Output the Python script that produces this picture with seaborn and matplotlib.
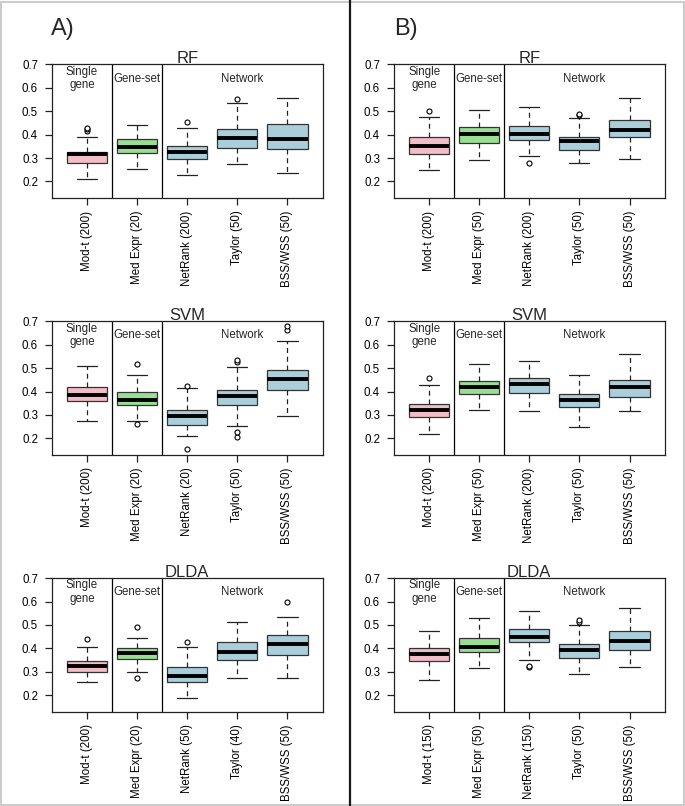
import pandas as pd
import matplotlib
matplotlib.use('Agg')
import matplotlib.pyplot as plt
import seaborn as sns
from matplotlib.lines import Line2D
from matplotlib.patches import Rectangle

# box stats per method: [lower whisker, q1, median, q3, upper whisker]
a_rf_labels = ['Mod-t (200)', 'Med Expr (20)', 'NetRank (200)', 'Taylor (50)', 'BSS/WSS (50)']
a_rf_stats = [[0.211, 0.279, 0.317, 0.324, 0.389],
              [0.254, 0.321, 0.347, 0.383, 0.443],
              [0.229, 0.296, 0.327, 0.351, 0.430],
              [0.273, 0.343, 0.387, 0.424, 0.534],
              [0.234, 0.337, 0.381, 0.447, 0.556]]
a_rf_out = [[0.415, 0.422, 0.430], [], [0.454], [0.554], []]

b_rf_labels = ['Mod-t (200)', 'Med Expr (50)', 'NetRank (200)', 'Taylor (50)', 'BSS/WSS (50)']
b_rf_stats = [[0.250, 0.319, 0.350, 0.389, 0.474],
              [0.293, 0.364, 0.404, 0.433, 0.506],
              [0.310, 0.377, 0.404, 0.439, 0.520],
              [0.280, 0.334, 0.371, 0.391, 0.471],
              [0.294, 0.389, 0.420, 0.461, 0.556]]
b_rf_out = [[0.500], [], [0.279], [0.483, 0.487], []]

a_svm_labels = ['Mod-t (200)', 'Med Expr (20)', 'NetRank (20)', 'Taylor (50)', 'BSS/WSS (50)']
a_svm_stats = [[0.274, 0.359, 0.384, 0.421, 0.510],
               [0.274, 0.344, 0.366, 0.399, 0.470],
               [0.210, 0.259, 0.297, 0.320, 0.414],
               [0.251, 0.341, 0.383, 0.407, 0.507],
               [0.296, 0.406, 0.453, 0.491, 0.617]]
a_svm_out = [[], [0.260, 0.517], [0.153, 0.426], [0.207, 0.227, 0.527, 0.536], [0.664, 0.681]]

b_svm_labels = ['Mod-t (200)', 'Med Expr (50)', 'NetRank (200)', 'Taylor (50)', 'BSS/WSS (50)']
b_svm_stats = [[0.220, 0.290, 0.323, 0.346, 0.430],
               [0.321, 0.390, 0.421, 0.444, 0.516],
               [0.319, 0.393, 0.433, 0.457, 0.529],
               [0.249, 0.333, 0.363, 0.389, 0.470],
               [0.317, 0.377, 0.421, 0.451, 0.559]]
b_svm_out = [[0.459], [], [], [], []]

a_dlda_labels = ['Mod-t (200)', 'Med Expr (20)', 'NetRank (50)', 'Taylor (40)', 'BSS/WSS (50)']
a_dlda_stats = [[0.254, 0.299, 0.323, 0.344, 0.404],
                [0.297, 0.356, 0.381, 0.400, 0.446],
                [0.189, 0.254, 0.280, 0.319, 0.407],
                [0.274, 0.351, 0.386, 0.429, 0.514],
                [0.274, 0.371, 0.417, 0.459, 0.534]]
a_dlda_out = [[0.440], [0.274, 0.490], [0.427], [], [0.599]]

b_dlda_labels = ['Mod-t (150)', 'Med Expr (50)', 'NetRank (150)', 'Taylor (50)', 'BSS/WSS (50)']
b_dlda_stats = [[0.263, 0.347, 0.374, 0.403, 0.474],
                [0.317, 0.384, 0.407, 0.444, 0.531],
                [0.350, 0.426, 0.447, 0.481, 0.559],
                [0.291, 0.360, 0.393, 0.417, 0.500],
                [0.320, 0.391, 0.433, 0.473, 0.571]]
b_dlda_out = [[], [], [0.319, 0.326], [0.514, 0.521], []]

box_colors = ['#F9B5C2', '#8FEA8A', '#A3D2E3', '#A3D2E3', '#A3D2E3']

sns.set_style('white')
plt.rcParams['font.family'] = ['Liberation Sans', 'DejaVu Sans']
plt.rcParams['axes.edgecolor'] = '#222222'
plt.rcParams['axes.linewidth'] = 0.9


def draw_panel(ax, title, labels, stats, outliers):
    rows = [(lab, v) for lab, s in zip(labels, stats) for v in s]
    df = pd.DataFrame(rows, columns=['method', 'value'])
    sns.boxplot(data=df, x='method', y='value', hue='method', order=labels,
                palette=dict(zip(labels, box_colors)), legend=False,
                width=0.8, whis=(0, 100), fliersize=0, ax=ax,
                linecolor='#333333', linewidth=0.9,
                medianprops=dict(color='black', linewidth=2.8),
                whiskerprops=dict(color='#222222', linestyle=(0, (4, 3))),
                capprops=dict(color='#222222'))
    out_rows = [(lab, v) for lab, o in zip(labels, outliers) for v in o]
    odf = pd.DataFrame(out_rows, columns=['method', 'value'])
    sns.stripplot(data=odf, x='method', y='value', order=labels, jitter=False,
                  color='white', edgecolor='black', linewidth=0.8, size=3.6,
                  ax=ax, zorder=5)
    ax.axvline(0.5, color='black', lw=0.9)
    ax.axvline(1.5, color='black', lw=0.9)
    ax.text(-0.1, 0.64, 'Single\ngene', ha='center', va='center', fontsize=8.3)
    ax.text(1.0, 0.64, 'Gene-set', ha='center', va='center', fontsize=8.3)
    ax.text(3.1, 0.64, 'Network', ha='center', va='center', fontsize=8.3)
    ax.set_xlim(-0.7, 4.7)
    ax.set_ylim(0.129, 0.701)
    ax.set_yticks([0.2, 0.3, 0.4, 0.5, 0.6, 0.7])
    ax.set_yticklabels(['0.2', '0.3', '0.4', '0.5', '0.6', '0.7'])
    ax.set_xticks(range(len(labels)))
    ax.set_xticklabels(labels, rotation=90)
    ax.tick_params(axis='both', direction='out', length=5, width=0.9,
                   labelsize=8.3, colors='#222222', labelcolor='black')
    ax.tick_params(axis='y', pad=5, left=True)
    ax.tick_params(axis='x', pad=4, bottom=True)
    ax.set_xlabel('')
    ax.set_ylabel('')
    ax.set_title(title, fontsize=12, pad=1)
    for sp in ax.spines.values():
        sp.set_visible(True)


fig = plt.figure(figsize=(6.85, 8.06), dpi=100)
row_bottoms = [0.7543, 0.4355, 0.117]
row_h = 0.166
col_lefts = [0.0759, 0.5752]
col_w = 0.395

panels = [
    [('RF', a_rf_labels, a_rf_stats, a_rf_out), ('RF', b_rf_labels, b_rf_stats, b_rf_out)],
    [('SVM', a_svm_labels, a_svm_stats, a_svm_out), ('SVM', b_svm_labels, b_svm_stats, b_svm_out)],
    [('DLDA', a_dlda_labels, a_dlda_stats, a_dlda_out), ('DLDA', b_dlda_labels, b_dlda_stats, b_dlda_out)],
]
for r, row in enumerate(panels):
    for c, (title, labels, stats, outs) in enumerate(row):
        ax = fig.add_axes([col_lefts[c], row_bottoms[r], col_w, row_h])
        draw_panel(ax, title, labels, stats, outs)

fig.text(0.074, 0.957, 'A)', fontsize=17, ha='left', va='baseline')
fig.text(0.575, 0.957, 'B)', fontsize=17, ha='left', va='baseline')

# divider and outer frame
fig.add_artist(Line2D([0.511, 0.511], [0, 1], transform=fig.transFigure,
                      color='#1a1a1a', lw=1.6))
fig.add_artist(Rectangle((0.001, 0.001), 0.997, 0.997, transform=fig.transFigure,
                         fill=False, edgecolor='#cccccc', lw=1.5))

fig.savefig('out.png', dpi=100)
